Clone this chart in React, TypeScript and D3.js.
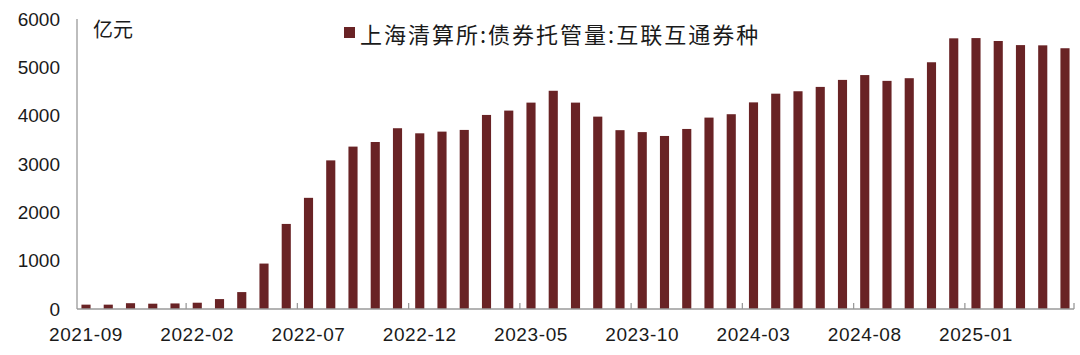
import React from "react";
import * as d3 from "d3";

const months: string[] = [
  "2021-09","2021-10","2021-11","2021-12","2022-01","2022-02","2022-03","2022-04","2022-05","2022-06",
  "2022-07","2022-08","2022-09","2022-10","2022-11","2022-12","2023-01","2023-02","2023-03","2023-04",
  "2023-05","2023-06","2023-07","2023-08","2023-09","2023-10","2023-11","2023-12","2024-01","2024-02",
  "2024-03","2024-04","2024-05","2024-06","2024-07","2024-08","2024-09","2024-10","2024-11","2024-12",
  "2025-01","2025-02","2025-03","2025-04","2025-05",
];
const values: number[] = [
  90, 90, 120, 110, 115, 130, 205, 350, 940, 1760,
  2300, 3075, 3360, 3455, 3740, 3635, 3670, 3705, 4015, 4105,
  4270, 4515, 4270, 3980, 3700, 3660, 3580, 3725, 3960, 4030,
  4275, 4455, 4505, 4595, 4740, 4840, 4720, 4775, 5105, 5600,
  5605, 5545, 5460, 5455, 5395,
];
const yTicks: number[] = [0, 1000, 2000, 3000, 4000, 5000, 6000];
const seriesName = "上海清算所:债券托管量:互联互通券种";
const unitLabel = "亿元";

const W = 1080;
const H = 355;
const left = 77;
const right = 1074;
const top = 19;
const bottom = 309;
const barColor = "#692325";
const axisColor = "#9a9a9a";
const textColor = "#1a1a1a";
const font = "'Noto Sans CJK SC', 'Noto Sans', sans-serif";
const numFont = "'Liberation Sans', Arial, sans-serif";

export default function App() {
  const x = d3.scaleBand<string>().domain(months).range([left, right]).paddingInner(0.59).paddingOuter(0.2);
  const y = d3.scaleLinear().domain([0, 6000]).range([bottom, top]);
  const step = x.step();
  const labelIdx = months.map((_, i) => i).filter((i) => i % 5 === 0);
  const tickIdx = months.map((_, i) => i).filter((i) => i % 5 === 4);

  return (
    <svg width={W} height={H} style={{ position: "absolute", left: 0, top: 0, background: "#fff" }}>
      {months.map((m, i) => (
        <rect
          key={m}
          x={x(m)!}
          y={y(values[i])}
          width={x.bandwidth()}
          height={y(0) - y(values[i])}
          fill={barColor}
        />
      ))}
      <line x1={left} x2={left} y1={top} y2={bottom} stroke={axisColor} strokeWidth={1.3} />
      <line x1={left} x2={right} y1={bottom} y2={bottom} stroke={axisColor} strokeWidth={1.3} />
      {tickIdx.map((i) => {
        const tx = Math.min(x(months[i])! + x.bandwidth() / 2 + step / 2, right);
        return <line key={i} x1={tx} x2={tx} y1={bottom} y2={bottom - 6} stroke={axisColor} strokeWidth={1.3} />;
      })}
      {yTicks.map((t) => (
        <text key={t} x={60} y={y(t)} textAnchor="end" dominantBaseline="central" fontSize={19} fontFamily={numFont} fill={textColor}>
          {t}
        </text>
      ))}
      {labelIdx.map((i) => (
        <text key={i} x={x(months[i])! + x.bandwidth() / 2} y={334} textAnchor="middle" dominantBaseline="central" fontSize={19} letterSpacing={0.6} fontFamily={numFont} fill={textColor}>
          {months[i]}
        </text>
      ))}
      <text x={93} y={28} dominantBaseline="central" fontSize={20} fontFamily={font} fill={textColor}>
        {unitLabel}
      </text>
      <rect x={344} y={27} width={11} height={11} fill={barColor} />
      <text x={360} y={33} dominantBaseline="central" fontSize={22} letterSpacing={2} fontFamily={font} fill={textColor}>
        {seriesName}
      </text>
    </svg>
  );
}
